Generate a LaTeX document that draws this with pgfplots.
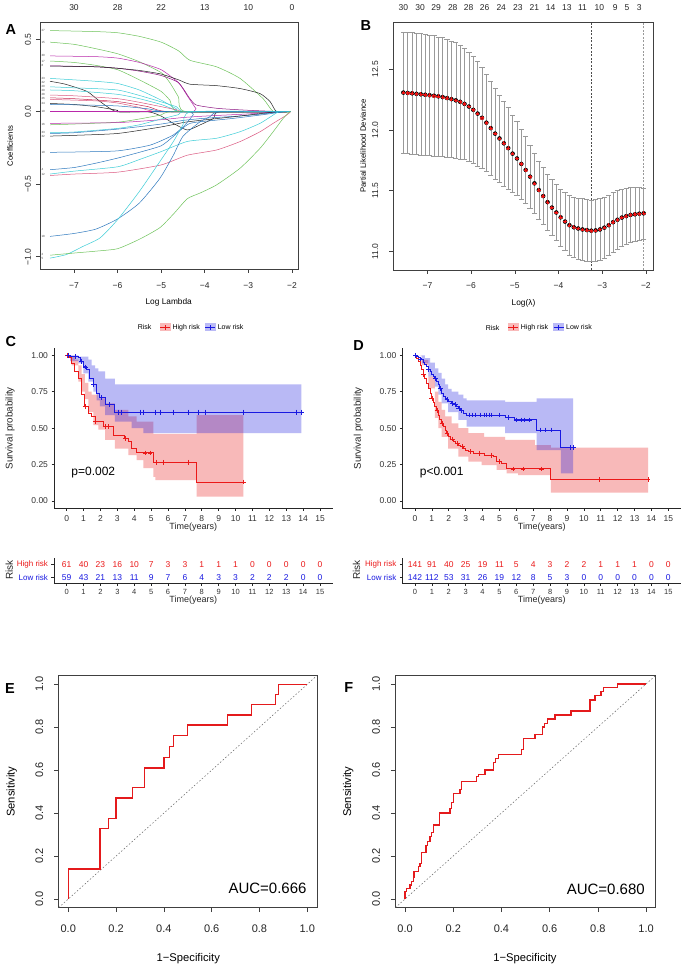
\documentclass[border=0pt]{standalone}
\usepackage{fontspec}
\setmainfont{Liberation Sans}
\usepackage{pgfplots}
\pgfplotsset{compat=1.18}
\usepackage{pgfplotstable}
\newcommand\fs[1]{\fontsize{#1}{#1}\selectfont}
\definecolor{cG}{RGB}{110,195,90}
\definecolor{cC}{RGB}{60,205,215}
\definecolor{cS}{RGB}{45,120,190}
\definecolor{cM}{RGB}{185,40,170}
\definecolor{cMd}{RGB}{140,20,130}
\definecolor{cP}{RGB}{220,90,130}
\definecolor{cR}{RGB}{200,40,80}
\definecolor{cK}{RGB}{35,35,35}
\definecolor{KMred}{RGB}{235,25,25}
\definecolor{KMblue}{RGB}{25,25,225}
\definecolor{ROCred}{RGB}{228,26,28}
\definecolor{Bred}{RGB}{235,20,20}
\tikzset{Alab/.style={font=\fs{3}, anchor=west, inner sep=0pt, text=black!70}}
\pgfplotstableread{
x y e
-7.55 12.308 0.50
-7.45 12.305 0.50
-7.35 12.302 0.50
-7.25 12.298 0.50
-7.15 12.294 0.50
-7.05 12.290 0.50
-6.95 12.286 0.495
-6.85 12.282 0.495
-6.75 12.277 0.49
-6.65 12.271 0.49
-6.55 12.263 0.485
-6.45 12.254 0.48
-6.35 12.244 0.475
-6.25 12.232 0.47
-6.15 12.215 0.46
-6.05 12.193 0.45
-5.95 12.166 0.44
-5.85 12.135 0.43
-5.75 12.100 0.415
-5.65 12.060 0.40
-5.55 12.015 0.39
-5.45 11.970 0.375
-5.35 11.930 0.36
-5.25 11.890 0.35
-5.15 11.850 0.335
-5.05 11.805 0.32
-4.95 11.765 0.305
-4.85 11.720 0.29
-4.75 11.670 0.275
-4.65 11.615 0.26
-4.55 11.560 0.25
-4.45 11.505 0.24
-4.35 11.455 0.235
-4.25 11.405 0.23
-4.15 11.360 0.23
-4.05 11.320 0.23
-3.95 11.280 0.235
-3.85 11.245 0.24
-3.75 11.215 0.245
-3.65 11.198 0.25
-3.55 11.188 0.25
-3.45 11.180 0.255
-3.35 11.175 0.255
-3.25 11.170 0.255
-3.15 11.172 0.255
-3.05 11.180 0.255
-2.95 11.195 0.25
-2.85 11.215 0.25
-2.75 11.240 0.245
-2.65 11.260 0.24
-2.55 11.278 0.235
-2.45 11.290 0.23
-2.35 11.300 0.225
-2.25 11.305 0.22
-2.15 11.310 0.215
-2.05 11.313 0.21
}\Bdata
\pgfplotsset{
  Rbox/.style={scale only axis, anchor=south west, tick align=outside, tick pos=left,
    major tick length=4pt, axis line style={black!75, line width=0.5pt},
    tick style={black!75, line width=0.5pt}, tick label style={text=black!85}},
  Rtop/.style={scale only axis, anchor=south west, ymin=0, ymax=1, ytick=\empty,
    axis line style={draw=none}, xtick pos=right, xticklabel pos=right,
    major tick length=0pt, tick style={draw=none}, xticklabel shift=8.4pt,
    tick label style={font=\fs{8.5}, text=black!85}},
  KM/.style={scale only axis, anchor=south west, axis lines=left,
    axis line style={-, black!85, line width=0.6pt}, tick align=outside,
    major tick length=2.5pt, tick style={black!85, line width=0.6pt},
    xmin=-0.75, xmax=15.75, xtick={0,...,15},
    tick label style={font=\fs{8.5}, text=black!80},
    /pgf/number format/assume math mode=true, xticklabel shift=1.7pt},
  KMleg/.style={legend style={at={(0.533,1.128)}, anchor=center, draw=none, fill=none,
    font=\fs{7}, legend columns=-1, /tikz/every even column/.append style={column sep=3pt}}},
  Aline/.style={line width=0.5pt, smooth, tension=0.35},
  RT/.style={scale only axis, anchor=south west, axis lines=left,
    axis line style={-, black!85, line width=0.6pt}, tick align=outside,
    major tick length=2.5pt, tick style={black!85, line width=0.6pt},
    xmin=-0.75, xmax=15.75, xtick={0,...,15}, ymin=0.538, ymax=2.5, ytick={1,2},
    yticklabels={\textcolor{KMblue}{Low risk},\textcolor{KMred}{High risk}},
    tick label style={font=\fs{7.5}, text=black!80}, yticklabel style={font=\fs{8}},
    /pgf/number format/assume math mode=true, clip=false},
  RTn/.style={draw=none, nodes near coords, point meta=explicit symbolic,
    every node near coord/.append style={font=\fs{8.5}, anchor=center, text=#1}},
  redkey/.style={legend image code/.code={\fill[KMred!30] (0pt,-3.5pt) rectangle (10pt,3.5pt); \draw[KMred, line width=1pt] (0pt,0pt)--(10pt,0pt); \draw[KMred, line width=0.7pt] (5pt,-2.5pt)--(5pt,2.5pt);}},
  bluekey/.style={legend image code/.code={\fill[KMblue!30] (0pt,-3.5pt) rectangle (10pt,3.5pt); \draw[KMblue, line width=1pt] (0pt,0pt)--(10pt,0pt); \draw[KMblue, line width=0.7pt] (5pt,-2.5pt)--(5pt,2.5pt);}},
}
\begin{document}
\begin{tikzpicture}[x=1pt,y=1pt]
\path[use as bounding box, fill=white] (0,0) rectangle (685,970);

% ---------------- A ----------------
\begin{axis}[Rbox, at={(40pt,701pt)}, width=258pt, height=246.4pt,
  xmin=-7.78, xmax=-1.86, ymin=-1.085, ymax=0.615,
  xtick={-7,-6,-5,-4,-3,-2}, xticklabels={−7,−6,−5,−4,−3,−2},
  ytick={-1,-0.5,0,0.5}, yticklabels={−1.0,−0.5,0.0,0.5},
  tick label style={font=\fs{8.5}}, yticklabel style={rotate=90, anchor=south},
  yticklabel shift=1.5pt, xticklabel shift=6pt]
\addplot[Aline, cG] coordinates {(-7.55,0.56)(-6.5,0.553)(-6,0.545)(-5.5,0.52)(-5,0.48)(-4.6,0.42)(-4.34,0.355)(-3.73,0.31)(-3.19,0.23)(-2.66,0.09)(-2.42,0)(-2.03,0)};
\addplot[Aline, cG] coordinates {(-7.55,0.48)(-7,0.465)(-6.5,0.435)(-6,0.40)(-5.5,0.345)(-5,0.27)(-4.8,0.20)(-4.6,0.10)(-4.42,0)(-2.03,0)};
\addplot[Aline, cM] coordinates {(-7.55,0.385)(-6.5,0.38)(-6,0.37)(-5.5,0.34)(-5,0.29)(-4.6,0.20)(-4.4,0.11)(-4.2,0.02)(-4.15,0)(-2.03,0)};
\addplot[Aline, cG] coordinates {(-7.55,0.35)(-7,0.34)(-6.5,0.32)(-6,0.29)(-5.5,0.22)(-5,0.14)(-4.8,0.08)(-4.55,0)(-2.03,0)};
\addplot[Aline, cMd] coordinates {(-7.55,0.317)(-6.5,0.31)(-6,0.30)(-5.5,0.28)(-5,0.25)(-4.6,0.20)(-4.34,0.09)(-4.19,0.046)(-3.7,0.023)(-3,0.01)(-2.2,0)(-2.03,0)};
\addplot[Aline, cK] coordinates {(-7.55,0.315)(-6.5,0.31)(-6,0.30)(-5.5,0.285)(-5,0.26)(-4.6,0.22)(-4.34,0.19)(-3.73,0.18)(-3.19,0.16)(-2.73,0.125)(-2.5,0.07)(-2.35,0)(-2.03,0)};
\addplot[Aline, cC] coordinates {(-7.55,0.23)(-7,0.22)(-6.5,0.21)(-6,0.195)(-5.5,0.15)(-5,0.08)(-4.65,0.02)(-4.5,0)(-2.03,0)};
\addplot[Aline, cK] coordinates {(-7.55,0.21)(-7.2,0.19)(-6.7,0.14)(-6.4,0.07)(-6.02,0)(-5.3,0)(-5.0,-0.03)(-4.72,-0.08)(-4.4,-0.126)(-4.1,-0.09)(-3.8,-0.046)(-3.65,0)(-2.03,0)};
\addplot[Aline, cC] coordinates {(-7.55,0.172)(-7,0.165)(-6,0.15)(-5.3,0.095)(-4.65,0.035)(-4.4,0)(-2.03,0)};
\addplot[Aline, cC] coordinates {(-7.55,0.15)(-7,0.145)(-6,0.12)(-5.5,0.09)(-5,0.05)(-4.7,0.015)(-4.5,0)(-2.03,0)};
\addplot[Aline, cP] coordinates {(-7.55,0.115)(-7,0.11)(-6,0.09)(-5.5,0.065)(-5,0.035)(-4.6,0.01)(-4.4,0)(-2.03,0)};
\addplot[Aline, cR] coordinates {(-7.55,0.096)(-7,0.09)(-6,0.07)(-5.3,0.035)(-4.8,0)(-2.03,0)};
\addplot[Aline, cP] coordinates {(-7.55,0.085)(-6.5,0.075)(-6,0.06)(-5.5,0.03)(-5.0,0)(-2.03,0)};
\addplot[Aline, cK] coordinates {(-7.55,0.057)(-7,0.05)(-6.5,0.035)(-6,0.01)(-5.8,0)(-2.03,0)};
\addplot[Aline, cS] coordinates {(-7.55,0.05)(-7,0.048)(-6,0.04)(-5.3,0.02)(-4.8,0)(-2.03,0)};
\addplot[line width=0.7pt, cM] coordinates {(-7.55,0)(-2.03,0)};
\addplot[line width=0.5pt, cS] coordinates {(-5.2,0)(-2.03,0)};
\addplot[Aline, cG] coordinates {(-7.55,-0.09)(-7,-0.085)(-6,-0.072)(-5.5,-0.05)(-5,-0.022)(-4.7,0)(-2.03,0)};
\addplot[Aline, cM] coordinates {(-7.55,-0.08)(-6,-0.075)(-5,-0.055)(-4.5,-0.04)(-4,-0.03)(-3,-0.015)(-2.3,0)(-2.03,0)};
\addplot[Aline, cC] coordinates {(-7.55,-0.145)(-7,-0.14)(-6,-0.115)(-5.5,-0.09)(-5,-0.05)(-4.6,-0.02)(-4.4,0)(-2.03,0)};
\addplot[Aline, cS] coordinates {(-7.55,-0.15)(-7,-0.145)(-6,-0.12)(-5,-0.085)(-4.5,-0.06)(-4,-0.045)(-3,-0.025)(-2.2,0)(-2.03,0)};
\addplot[Aline, cK] coordinates {(-7.55,-0.168)(-7,-0.163)(-6,-0.15)(-5,-0.105)(-4.4,-0.07)(-3.35,-0.035)(-2.5,-0.005)(-2.3,0)(-2.03,0)};
\addplot[Aline, cS] coordinates {(-7.55,-0.28)(-7,-0.278)(-6,-0.27)(-5.25,-0.23)(-4.72,-0.16)(-4.45,-0.09)(-4.26,-0.02)(-4.2,0)(-2.03,0)};
\addplot[Aline, cS] coordinates {(-7.55,-0.40)(-7,-0.385)(-6.5,-0.355)(-6,-0.32)(-5.5,-0.28)(-5,-0.235)(-4.72,-0.17)(-4.45,-0.10)(-4.26,-0.075)(-3.35,-0.046)(-2.6,-0.018)(-2.2,0)(-2.03,0)};
\addplot[Aline, cC] coordinates {(-7.55,-0.43)(-7,-0.41)(-6,-0.38)(-5.5,-0.33)(-5,-0.275)(-4.4,-0.205)(-3.73,-0.183)(-3.19,-0.138)(-2.73,-0.08)(-2.43,-0.023)(-2.3,0)(-2.03,0)};
\addplot[Aline, cP] coordinates {(-7.55,-0.44)(-7,-0.43)(-6,-0.417)(-5,-0.367)(-4.4,-0.30)(-3.73,-0.264)(-3.19,-0.206)(-2.73,-0.138)(-2.43,-0.08)(-2.12,-0.023)(-2.03,0)};
\addplot[Aline, cS] coordinates {(-7.55,-0.86)(-7,-0.84)(-6.5,-0.81)(-6,-0.74)(-5.5,-0.63)(-5.03,-0.46)(-4.72,-0.30)(-4.5,-0.17)(-4.11,-0.07)(-3.88,-0.034)(-3.65,0)(-2.03,0)};
\addplot[Aline, cC] coordinates {(-7.55,-1.01)(-7.17,-0.985)(-6.8,-0.93)(-6.4,-0.87)(-6,-0.745)(-5.5,-0.55)(-5.03,-0.344)(-4.72,-0.206)(-4.5,-0.09)(-4.3,0)(-2.03,0)};
\addplot[Aline, cG] coordinates {(-7.55,-0.99)(-7,-0.975)(-6.5,-0.962)(-6,-0.945)(-5.5,-0.88)(-5.03,-0.80)(-4.7,-0.70)(-4.4,-0.60)(-4.1,-0.56)(-3.73,-0.505)(-3.19,-0.39)(-2.73,-0.252)(-2.43,-0.138)(-2.2,-0.046)(-2.05,0)(-2.03,0)};
\node[Alab] at (axis cs:-7.75,0.56) {27};
\node[Alab] at (axis cs:-7.75,0.48) {15};
\node[Alab] at (axis cs:-7.75,0.385) {30};
\node[Alab] at (axis cs:-7.75,0.35) {17};
\node[Alab] at (axis cs:-7.75,0.317) {8};
\node[Alab] at (axis cs:-7.75,0.23) {23};
\node[Alab] at (axis cs:-7.75,0.205) {22};
\node[Alab] at (axis cs:-7.75,0.172) {20};
\node[Alab] at (axis cs:-7.75,0.15) {29};
\node[Alab] at (axis cs:-7.75,0.117) {28};
\node[Alab] at (axis cs:-7.75,0.094) {26};
\node[Alab] at (axis cs:-7.75,0.057) {24};
\node[Alab] at (axis cs:-7.75,0) {19};
\node[Alab] at (axis cs:-7.75,-0.085) {16};
\node[Alab] at (axis cs:-7.75,-0.145) {33};
\node[Alab] at (axis cs:-7.75,-0.168) {32};
\node[Alab] at (axis cs:-7.75,-0.28) {10};
\node[Alab] at (axis cs:-7.75,-0.40) {4};
\node[Alab] at (axis cs:-7.75,-0.435) {12};
\node[Alab] at (axis cs:-7.75,-0.86) {18};
\node[Alab] at (axis cs:-7.75,-0.985) {2};
\node[Alab] at (axis cs:-7.75,-1.012) {5};
\end{axis}
\begin{axis}[Rtop, at={(40pt,701pt)}, width=258pt, height=246.4pt, xmin=-7.78, xmax=-1.86,
  xtick={-7,-6,-5,-4,-3,-2}, xticklabels={30,28,22,13,10,0}]
\addplot[draw=none, forget plot] coordinates {(-5,0.5)};
\end{axis}

% ---------------- B ----------------
\begin{axis}[Rbox, at={(393.3pt,700pt)}, width=260pt, height=247.3pt,
  xmin=-7.78, xmax=-1.83, ymin=10.846, ymax=12.884,
  xtick={-7,-6,-5,-4,-3,-2}, xticklabels={−7,−6,−5,−4,−3,−2},
  ytick={11,11.5,12,12.5}, yticklabels={11.0,11.5,12.0,12.5},
  tick label style={font=\fs{8.5}}, yticklabel style={rotate=90, anchor=south},
  yticklabel shift=7.6pt, xticklabel shift=5pt]
\addplot[black!70, line width=0.5pt, dash pattern=on 2pt off 1.5pt] coordinates {(-3.24,10.846)(-3.24,12.884)};
\addplot[black!40, line width=0.5pt, dash pattern=on 2pt off 1.5pt] coordinates {(-2.05,10.846)(-2.05,12.884)};
\addplot[only marks, mark=none, error bars/.cd, y dir=both, y explicit,
  error bar style={black!40, line width=0.45pt},
  error mark options={rotate=90, mark size=2.6pt, black!40, line width=0.45pt}]
  table[x=x, y=y, y error=e] {\Bdata};
\addplot[only marks, mark=*, mark size=1.35pt, color=Bred, mark options={fill=Bred, draw=Bred, line width=0pt}] table[x=x, y=y] {\Bdata};
\end{axis}
\begin{axis}[Rtop, at={(393.3pt,700pt)}, width=260pt, height=247.3pt, xmin=-7.78, xmax=-1.83,
  xtick={-7.549,-7.168,-6.80,-6.42,-6.055,-5.69,-5.31,-4.93,-4.553,-4.18,-3.81,-3.45,-3.067,-2.70,-2.43,-2.15},
  xticklabels={30,30,29,28,28,26,24,23,21,14,13,11,10,9,5,3}]
\addplot[draw=none, forget plot] coordinates {(-5,0.5)};
\end{axis}

% ---------------- C ----------------
\begin{axis}[KM, KMleg, at={(54pt,461.7pt)}, width=278.7pt, height=160.3pt,
  ymin=-0.05, ymax=1.05, ytick={0,0.25,0.5,0.75,1}, yticklabels={0.00,0.25,0.50,0.75,1.00}]
\addplot[forget plot, const plot, fill=KMred, fill opacity=0.3, draw=none] coordinates {(0,1)(0.3,0.99)(0.49,0.97)(0.69,0.93)(0.89,0.87)(1.08,0.81)(1.28,0.75)(1.48,0.73)(1.87,0.705)(2.27,0.67)(2.86,0.625)(3.65,0.58)(4.14,0.545)(5.13,0.46)(7.7,0.59)(10.46,0.59)
 (10.46,0.03)(7.7,0.144)(5.25,0.165)(5.13,0.225)(4.54,0.28)(4.14,0.315)(3.65,0.36)(2.86,0.42)(2.27,0.49)(1.87,0.52)(1.58,0.61)(1.28,0.70)(1.08,0.75)(0.89,0.82)(0.69,0.93)(0.3,1)(0,1)};
\addplot[forget plot, const plot, fill=KMblue, fill opacity=0.3, draw=none] coordinates {(0,1)(0.69,0.99)(1.28,0.97)(1.48,0.93)(1.68,0.91)(1.87,0.89)(2.27,0.84)(2.86,0.80)(13.9,0.80)
 (13.9,0.465)(4.54,0.50)(3.85,0.545)(2.86,0.59)(2.27,0.65)(1.97,0.69)(1.78,0.75)(1.58,0.82)(1.28,0.876)(0.99,0.945)(0.69,0.96)(0.2,1)(0,1)};
\addplot[redkey, KMred, line width=1pt, const plot] coordinates {(0,1)(0.15,0.983)(0.3,0.945)(0.49,0.89)(0.69,0.84)(0.89,0.73)(1.08,0.65)(1.28,0.60)(1.48,0.58)(1.68,0.545)(2.17,0.51)(2.76,0.45)(3.45,0.43)(3.65,0.41)(3.85,0.36)(4.14,0.33)(5.13,0.265)(7.7,0.13)(10.46,0.13)};
\addplot[bluekey, KMblue, line width=1pt, const plot] coordinates {(0,1)(0.2,0.99)(0.69,0.985)(0.79,0.96)(0.99,0.92)(1.18,0.90)(1.38,0.84)(1.58,0.80)(1.78,0.74)(1.97,0.71)(2.27,0.66)(2.86,0.61)(13.9,0.61)};
\addplot[forget plot, KMred, only marks, mark=+, mark size=2.4pt, line width=0.7pt] coordinates {(0.05,1)(1.1,0.65)(1.7,0.545)(2.27,0.51)(2.47,0.51)(3.5,0.43)(4.64,0.33)(4.93,0.33)(5.33,0.265)(5.72,0.265)(7.2,0.265)(10.46,0.13)};
\addplot[forget plot, KMblue, only marks, mark=+, mark size=2.4pt, line width=0.7pt] coordinates {(0.1,1)(0.5,0.99)(0.89,0.96)(1.1,0.92)(1.6,0.80)(2.07,0.71)(2.5,0.66)(3.06,0.61)(3.26,0.61)(4.34,0.61)(4.54,0.61)(5.23,0.61)(5.53,0.61)(6.32,0.61)(7.2,0.61)(7.8,0.61)(8.19,0.61)(10.46,0.61)(13.6,0.61)(13.9,0.61)};
\legend{High risk,Low risk}
\end{axis}

% ---------------- D ----------------
\begin{axis}[KM, KMleg, at={(402.3pt,461.7pt)}, width=278.7pt, height=160.3pt,
  ymin=-0.05, ymax=1.05, ytick={0,0.25,0.5,0.75,1}, yticklabels={0.00,0.25,0.50,0.75,1.00}]
\addplot[forget plot, const plot, fill=KMred, fill opacity=0.3, draw=none] coordinates {(0,1)(0.39,0.968)(0.79,0.853)(1.18,0.75)(1.38,0.68)(1.58,0.625)(1.78,0.58)(2.17,0.533)(2.57,0.50)(3.16,0.465)(4.1,0.44)(5.33,0.42)(7.1,0.384)(8.05,0.366)(13.8,0.366)
 (13.8,0.057)(8.05,0.178)(6.1,0.19)(5.43,0.213)(4.84,0.247)(3.95,0.27)(3.16,0.304)(2.57,0.36)(1.97,0.44)(1.58,0.50)(1.38,0.57)(1.18,0.773)(0.79,0.933)(0.39,1)(0,1)};
\addplot[forget plot, const plot, fill=KMblue, fill opacity=0.3, draw=none] coordinates {(0,1)(0.59,0.98)(0.89,0.95)(1.18,0.91)(1.38,0.88)(1.58,0.84)(1.78,0.80)(1.97,0.77)(2.17,0.75)(2.57,0.73)(2.86,0.705)(3.06,0.69)(5.33,0.68)(7.2,0.705)(9.37,0.705)
 (9.37,0.19)(8.64,0.35)(7.2,0.465)(5.33,0.51)(3.06,0.556)(2.57,0.61)(1.97,0.67)(1.58,0.73)(1.38,0.785)(1.18,0.853)(0.79,0.945)(0.39,1)(0,1)};
\addplot[redkey, KMred, line width=1pt, const plot] coordinates {(0,1)(0.1,0.98)(0.2,0.956)(0.3,0.93)(0.39,0.90)(0.49,0.87)(0.59,0.84)(0.69,0.805)(0.79,0.773)(0.89,0.74)(0.99,0.705)(1.08,0.675)(1.18,0.648)(1.28,0.62)(1.38,0.59)(1.48,0.56)(1.58,0.533)(1.68,0.51)(1.78,0.487)(1.87,0.463)(1.97,0.44)(2.1,0.425)(2.27,0.41)(2.4,0.397)(2.57,0.384)(2.7,0.373)(2.86,0.362)(3.0,0.35)(3.16,0.339)(3.45,0.327)(4.1,0.315)(4.64,0.304)(4.84,0.27)(5.13,0.26)(5.43,0.22)(8.05,0.146)(13.8,0.146)};
\addplot[bluekey, KMblue, line width=1pt, const plot] coordinates {(0,1)(0.1,0.993)(0.2,0.985)(0.3,0.975)(0.39,0.968)(0.49,0.95)(0.59,0.934)(0.69,0.92)(0.79,0.905)(0.89,0.89)(0.99,0.87)(1.08,0.855)(1.18,0.84)(1.28,0.82)(1.38,0.80)(1.48,0.77)(1.58,0.74)(1.68,0.72)(1.78,0.705)(1.9,0.695)(2.0,0.685)(2.17,0.67)(2.3,0.66)(2.45,0.65)(2.57,0.636)(2.7,0.62)(2.86,0.60)(3.06,0.59)(5.33,0.572)(5.92,0.556)(7.2,0.487)(8.64,0.366)(9.37,0.366)};
\addplot[forget plot, KMred, only marks, mark=+, mark size=2.4pt, line width=0.7pt] coordinates {(0.5,0.87)(1.0,0.705)(1.3,0.62)(1.6,0.533)(1.9,0.463)(2.2,0.425)(2.5,0.397)(2.8,0.373)(3.3,0.339)(3.8,0.327)(4.5,0.315)(5.0,0.27)(5.8,0.22)(6.4,0.22)(7.5,0.22)(10.9,0.146)(13.8,0.146)};
\addplot[forget plot, KMblue, only marks, mark=+, mark size=2.4pt, line width=0.7pt] coordinates {(0.05,1)(0.3,0.975)(0.8,0.905)(1.2,0.84)(1.5,0.77)(1.9,0.695)(2.2,0.67)(2.4,0.66)(2.6,0.636)(2.75,0.62)(3.2,0.59)(3.4,0.59)(3.6,0.59)(3.9,0.59)(4.1,0.59)(4.2,0.59)(4.4,0.59)(4.5,0.59)(5.0,0.59)(5.5,0.572)(6.0,0.556)(6.3,0.556)(6.5,0.556)(6.8,0.556)(7.4,0.487)(7.7,0.487)(8.1,0.487)(9.2,0.366)(9.37,0.366)};
\legend{High risk,Low risk}
\end{axis}

% ---------------- risk tables ----------------
\begin{axis}[RT, at={(54pt,386.7pt)}, width=278.7pt, height=25.5pt]
\addplot[RTn=KMred] coordinates {(0,2)[61](1,2)[40](2,2)[23](3,2)[16](4,2)[10](5,2)[7](6,2)[3](7,2)[3](8,2)[1](9,2)[1](10,2)[1](11,2)[0](12,2)[0](13,2)[0](14,2)[0](15,2)[0]};
\addplot[RTn=KMblue] coordinates {(0,1)[59](1,1)[43](2,1)[21](3,1)[13](4,1)[11](5,1)[9](6,1)[7](7,1)[6](8,1)[4](9,1)[3](10,1)[3](11,1)[2](12,1)[2](13,1)[2](14,1)[0](15,1)[0]};
\end{axis}
\begin{axis}[RT, at={(402.3pt,386.7pt)}, width=278.7pt, height=25.5pt]
\addplot[RTn=KMred] coordinates {(0,2)[141](1,2)[91](2,2)[40](3,2)[25](4,2)[19](5,2)[11](6,2)[5](7,2)[4](8,2)[3](9,2)[2](10,2)[2](11,2)[1](12,2)[1](13,2)[1](14,2)[0](15,2)[0]};
\addplot[RTn=KMblue] coordinates {(0,1)[142](1,1)[112](2,1)[53](3,1)[31](4,1)[26](5,1)[19](6,1)[12](7,1)[8](8,1)[5](9,1)[3](10,1)[0](11,1)[0](12,1)[0](13,1)[0](14,1)[0](15,1)[0]};
\end{axis}

% ---------------- E ----------------
\begin{axis}[Rbox, at={(58.7pt,62.4pt)}, width=258.1pt, height=231.9pt,
  xmin=-0.04, xmax=1.04, ymin=-0.04, ymax=1.04, major tick length=4.5pt,
  xtick={0,0.2,0.4,0.6,0.8,1}, xticklabels={0.0,0.2,0.4,0.6,0.8,1.0},
  ytick={0,0.2,0.4,0.6,0.8,1}, yticklabels={0.0,0.2,0.4,0.6,0.8,1.0},
  tick label style={font=\fs{11}}, yticklabel style={rotate=90, anchor=south},
  yticklabel shift=7.4pt, xticklabel shift=9.3pt]
\addplot[black!60, line width=0.5pt, dash pattern=on 1.5pt off 2pt] coordinates {(-0.04,-0.04)(1.04,1.04)};
\addplot[color=ROCred, line width=1.3pt, line join=miter] coordinates {(0,0)(0,0.14)(0.133,0.14)(0.133,0.328)(0.167,0.328)(0.167,0.375)(0.2,0.375)(0.2,0.47)(0.27,0.47)(0.27,0.52)(0.32,0.52)(0.32,0.61)(0.40,0.61)(0.40,0.66)(0.425,0.66)(0.425,0.71)(0.439,0.71)(0.439,0.76)(0.50,0.76)(0.50,0.81)(0.667,0.81)(0.667,0.857)(0.767,0.857)(0.767,0.905)(0.867,0.905)(0.867,0.952)(0.88,0.952)(0.88,1)(1,1)};
\end{axis}

% ---------------- F ----------------
\begin{axis}[Rbox, at={(395.4pt,62.4pt)}, width=260.3pt, height=232.2pt,
  xmin=-0.04, xmax=1.04, ymin=-0.04, ymax=1.04, major tick length=4.5pt,
  xtick={0,0.2,0.4,0.6,0.8,1}, xticklabels={0.0,0.2,0.4,0.6,0.8,1.0},
  ytick={0,0.2,0.4,0.6,0.8,1}, yticklabels={0.0,0.2,0.4,0.6,0.8,1.0},
  tick label style={font=\fs{11}}, yticklabel style={rotate=90, anchor=south},
  yticklabel shift=7.4pt, xticklabel shift=9.3pt]
\addplot[black!60, line width=0.5pt, dash pattern=on 1.5pt off 2pt] coordinates {(-0.04,-0.04)(1.04,1.04)};
\addplot[color=ROCred, line width=1.3pt, line join=miter] coordinates {(0,0)(0,0.034)(0.007,0.034)(0.007,0.05)(0.02,0.05)(0.02,0.065)(0.028,0.065)(0.028,0.08)(0.035,0.08)(0.035,0.10)(0.037,0.10)(0.037,0.127)(0.055,0.127)(0.055,0.15)(0.062,0.15)(0.062,0.166)(0.069,0.166)(0.069,0.217)(0.087,0.217)(0.087,0.25)(0.093,0.25)(0.093,0.267)(0.104,0.267)(0.104,0.29)(0.11,0.29)(0.11,0.31)(0.118,0.31)(0.118,0.344)(0.142,0.344)(0.142,0.40)(0.187,0.40)(0.187,0.42)(0.194,0.42)(0.194,0.45)(0.20,0.45)(0.20,0.49)(0.228,0.49)(0.228,0.51)(0.235,0.51)(0.235,0.546)(0.297,0.546)(0.297,0.569)(0.304,0.569)(0.304,0.58)(0.332,0.58)(0.332,0.60)(0.367,0.60)(0.367,0.634)(0.375,0.634)(0.375,0.654)(0.387,0.654)(0.387,0.673)(0.484,0.673)(0.484,0.696)(0.491,0.696)(0.491,0.746)(0.539,0.746)(0.539,0.766)(0.571,0.766)(0.571,0.80)(0.58,0.80)(0.58,0.817)(0.59,0.817)(0.59,0.837)(0.622,0.837)(0.622,0.856)(0.689,0.856)(0.689,0.874)(0.768,0.874)(0.768,0.925)(0.788,0.925)(0.788,0.946)(0.813,0.946)(0.813,0.964)(0.822,0.964)(0.822,0.983)(0.881,0.983)(0.881,1)(1,1)};
\end{axis}

% ---------------- labels ----------------
\node[font=\fs{14.5}\bfseries] at (10.8,940) {A};
\node[font=\fs{14.5}\bfseries] at (365.8,944.2) {B};
\node[font=\fs{14.5}\bfseries] at (10.8,628.3) {C};
\node[font=\fs{14.5}\bfseries] at (358.5,624.2) {D};
\node[font=\fs{14.5}\bfseries] at (10,281.3) {E};
\node[font=\fs{14.5}\bfseries] at (348.7,282) {F};
\node[font=\fs{7.7}, rotate=90] at (10,824) {Coefficients};
\node[font=\fs{8.3}] at (168.7,668) {Log Lambda};
\node[font=\fs{7.7}, rotate=90] at (363,824) {Partial Likelihood Deviance};
\node[font=\fs{8.3}] at (523.5,667) {Log(λ)};
\node[font=\fs{7}, anchor=east] at (155,643) {Risk};
\node[font=\fs{7}, anchor=east] at (503,642) {Risk};
\node[font=\fs{9.8}, rotate=90, text=black!85] at (10,541.7) {Survival probability};
\node[font=\fs{9.8}, rotate=90, text=black!85] at (358.3,541.7) {Survival probability};
\node[font=\fs{12}] at (93.3,497.3) {p=0.002};
\node[font=\fs{12}] at (441.7,497.3) {p<0.001};
\node[font=\fs{9}, text=black!85] at (193.3,443) {Time(years)};
\node[font=\fs{9}, text=black!85] at (541.7,443) {Time(years)};
\node[font=\fs{9}, text=black!85] at (193.3,370) {Time(years)};
\node[font=\fs{9}, text=black!85] at (541.7,370) {Time(years)};
\node[font=\fs{10}, rotate=90, text=black!85] at (9.2,400) {Risk};
\node[font=\fs{10}, rotate=90, text=black!85] at (356.5,400) {Risk};
\node[font=\fs{11.2}, rotate=90] at (11.7,178.3) {Sensitivity};
\node[font=\fs{11.2}, rotate=90] at (348.3,178.3) {Sensitivity};
\node[font=\fs{11.2}] at (188.3,11) {1−Specificity};
\node[font=\fs{11.2}] at (525,11) {1−Specificity};
\node[font=\fs{15}, anchor=east] at (310,82) {AUC=0.666};
\node[font=\fs{15}, anchor=east] at (648.3,80.7) {AUC=0.680};
\end{tikzpicture}
\end{document}
